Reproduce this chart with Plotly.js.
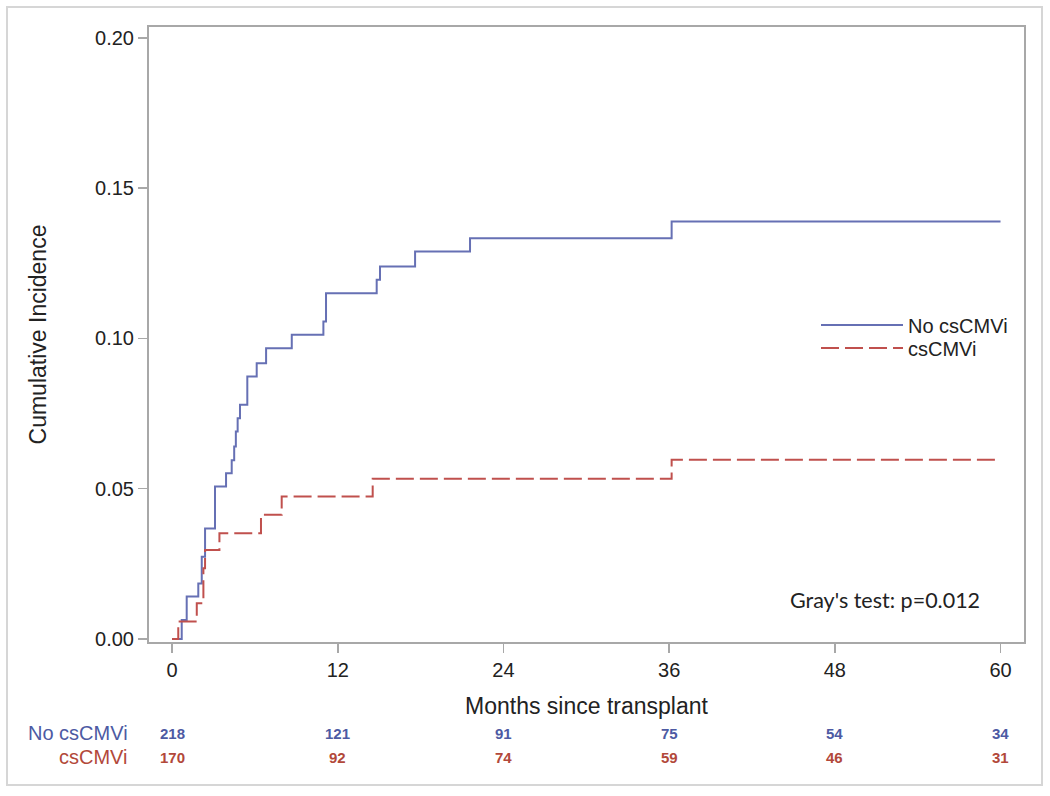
<!DOCTYPE html>
<html>
<head>
<meta charset="utf-8">
<script src="https://cdn.plot.ly/plotly-3.0.1.min.js"></script>
<style>
html,body{margin:0;padding:0;background:#fff;}
#chart{width:1050px;height:796px;}
</style>
</head>
<body>
<div id="chart"></div>
<script>
// ---- data ----
var groupNames = ["No csCMVi", "csCMVi"];

var noCmvMonths = [0, 0.70, 1.06, 1.90, 2.15, 2.39, 3.11, 3.91, 4.32, 4.50, 4.62, 4.75, 4.92, 5.45, 6.13, 6.81, 8.67, 10.96, 11.15, 14.82, 15.06, 17.60, 21.58, 36.18, 60];
var noCmvCif    = [0, 0.0063, 0.0141, 0.0185, 0.0274, 0.0368, 0.0507, 0.0551, 0.0595, 0.0640, 0.0690, 0.0734, 0.0779, 0.0873, 0.0917, 0.0967, 0.1012, 0.1056, 0.1150, 0.1195, 0.1239, 0.1289, 0.1333, 0.1389, 0.1389];

var cmvMonths = [0, 0.45, 1.79, 2.27, 2.39, 3.43, 6.44, 7.94, 14.53, 36.18, 60];
var cmvCif    = [0, 0.0058, 0.0119, 0.0235, 0.0296, 0.0352, 0.0413, 0.0474, 0.0533, 0.0596, 0.0596];

var riskTimes  = [0, 12, 24, 36, 48, 60];
var riskNoCmv  = [218, 121, 91, 75, 54, 34];
var riskCmv    = [170, 92, 74, 59, 46, 31];

var xTickVals = [0, 12, 24, 36, 48, 60];
var yTickVals = [0, 0.05, 0.10, 0.15, 0.20];
var yTickText = ["0.00", "0.05", "0.10", "0.15", "0.20"];

var testLabel = "Gray's test: p=0.012";
var xTitle = "Months since transplant";
var yTitle = "Cumulative Incidence";

// ---- styling ----
var blue = "#6670b4";
var red = "#c0504d";
var blueText = "#4d5aa3";
var redText = "#b2483a";
var baseFont = "Liberation Sans, Arial, sans-serif";

var traces = [
  {x: noCmvMonths, y: noCmvCif, name: groupNames[0], type: "scatter", mode: "lines", legend: "legend",
   line: {shape: "hv", color: blue, width: 2}},
  {x: cmvMonths, y: cmvCif, name: groupNames[1], type: "scatter", mode: "lines", legend: "legend2",
   line: {shape: "hv", color: red, width: 2, dash: "18px,6px"}}
];

// paper coordinates: plot area x 149..1024, y 27..642
function px2paperY(py){ return (642 - py) / 615; }
function px2paperX(px){ return (px - 149) / 875; }

var annotations = [];
annotations.push({xref: "paper", yref: "paper", x: px2paperX(130), y: px2paperY(733), xanchor: "right", yanchor: "middle",
  text: groupNames[0], showarrow: false, font: {family: baseFont, size: 20, color: blueText}});
annotations.push({xref: "paper", yref: "paper", x: px2paperX(130), y: px2paperY(757), xanchor: "right", yanchor: "middle",
  text: groupNames[1], showarrow: false, font: {family: baseFont, size: 20, color: redText}});
for (var i = 0; i < riskTimes.length; i++) {
  annotations.push({xref: "x", yref: "paper", x: riskTimes[i], y: px2paperY(733), xanchor: "center", yanchor: "middle",
    text: "<b>" + riskNoCmv[i] + "</b>", showarrow: false, font: {family: baseFont, size: 15, color: blueText}});
  annotations.push({xref: "x", yref: "paper", x: riskTimes[i], y: px2paperY(757), xanchor: "center", yanchor: "middle",
    text: "<b>" + riskCmv[i] + "</b>", showarrow: false, font: {family: baseFont, size: 15, color: redText}});
}
annotations.push({xref: "paper", yref: "paper", x: px2paperX(788), y: px2paperY(600), xanchor: "left", yanchor: "middle",
  text: testLabel, showarrow: false, font: {family: "Lato, Open Sans, sans-serif", size: 21.5, color: "#222"}});

function legendAt(py) {
  return {x: px2paperX(816), y: px2paperY(py), xanchor: "left", yanchor: "middle",
    font: {family: baseFont, size: 20, color: "#222"}, itemwidth: 82, bgcolor: "rgba(0,0,0,0)"};
}

var layout = {
  width: 1050, height: 796,
  margin: {l: 149, r: 26, t: 27, b: 154},
  paper_bgcolor: "#fff", plot_bgcolor: "#fff",
  font: {family: baseFont, color: "#222"},
  showlegend: true,
  legend: legendAt(325),
  legend2: legendAt(348),
  xaxis: {range: [-1.67, 61.7], tickvals: xTickVals, ticks: "outside", ticklen: 9, tickwidth: 1.5, tickcolor: "#a8a8a8",
    showline: true, linecolor: "#a8a8a8", linewidth: 2, mirror: true, showgrid: false, zeroline: false,
    tickfont: {size: 20, color: "#222"},
    title: {text: xTitle, font: {size: 23, color: "#222"}, standoff: 18}},
  yaxis: {range: [-0.001, 0.2036], tickvals: yTickVals, ticktext: yTickText, ticks: "outside", ticklen: 9, tickwidth: 1.5, tickcolor: "#a8a8a8",
    showline: true, linecolor: "#a8a8a8", linewidth: 2, mirror: true, showgrid: false, zeroline: false,
    tickfont: {size: 20, color: "#222"},
    title: {text: yTitle, font: {size: 23, color: "#222"}, standoff: 42}},
  annotations: annotations,
  shapes: [
    {type: "rect", xref: "paper", yref: "paper", x0: px2paperX(7), x1: px2paperX(1042), y0: px2paperY(785), y1: px2paperY(7),
     line: {color: "#d6d6d6", width: 2}, fillcolor: "rgba(0,0,0,0)", layer: "below"}
  ]
};

Plotly.newPlot("chart", traces, layout, {displayModeBar: false, staticPlot: true});
</script>
</body>
</html>
